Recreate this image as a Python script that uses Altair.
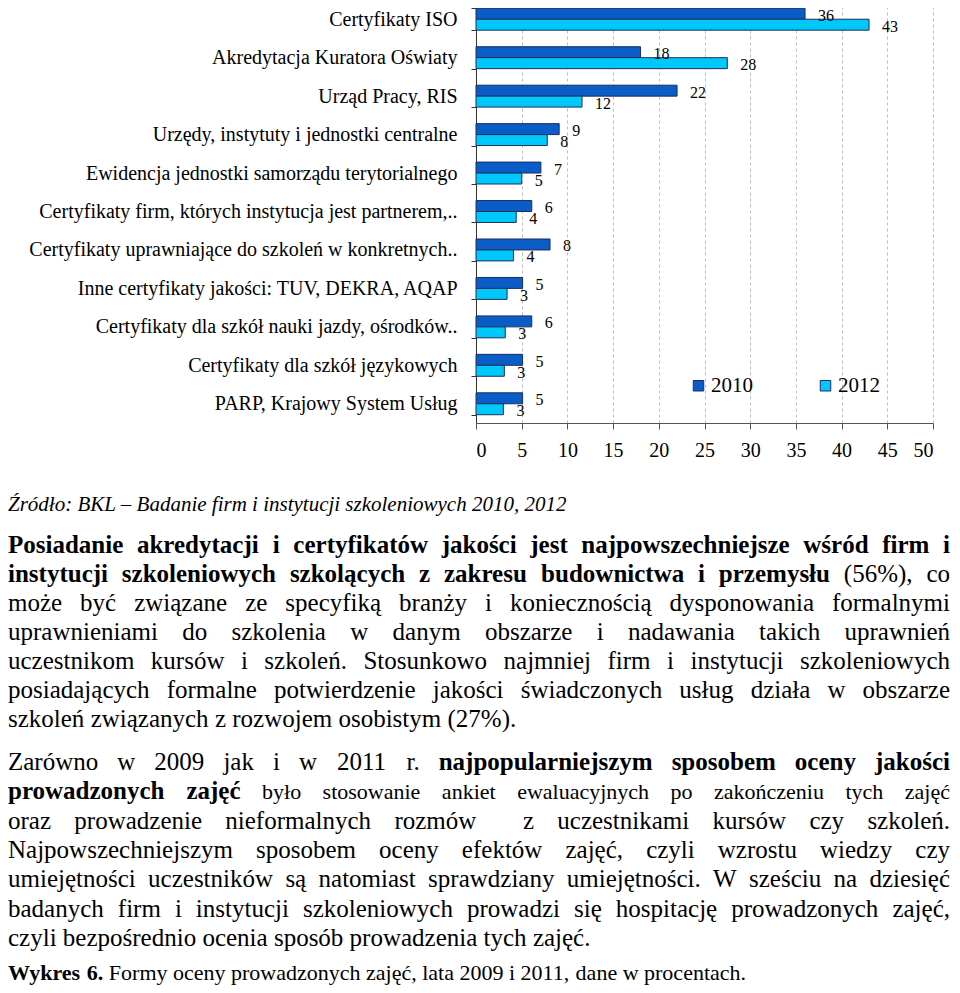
import altair as alt
import pandas as pd

# ---------------- data ----------------
categories = [
    "Certyfikaty ISO",
    "Akredytacja Kuratora Oświaty",
    "Urząd Pracy, RIS",
    "Urzędy, instytuty i jednostki centralne",
    "Ewidencja jednostki samorządu terytorialnego",
    "Certyfikaty firm, których instytucja jest partnerem,..",
    "Certyfikaty uprawniające do szkoleń w konkretnych..",
    "Inne certyfikaty jakości:  TUV, DEKRA, AQAP",
    "Certyfikaty dla szkół nauki jazdy, ośrodków..",
    "Certyfikaty dla szkół językowych",
    "PARP, Krajowy System Usług",
]
years = ["2010", "2012"]
values_2010 = [36, 18, 22, 9.1, 7.1, 6.1, 8.1, 5.1, 6.1, 5.1, 5.1]
values_2012 = [43, 27.5, 11.6, 7.8, 5.0, 4.4, 4.1, 3.4, 3.2, 3.1, 3.0]
x_ticks = [0, 5, 10, 15, 20, 25, 30, 35, 40, 45, 50]
colors = ["#0A5CC6", "#00C8FA"]

source_text = "Źródło: BKL – Badanie firm i instytucji szkoleniowych 2010, 2012"
paragraph_lines = [
    (True, [("b", "Posiadanie akredytacji i certyfikatów jakości jest najpowszechniejsze wśród firm i")]),
    (True, [("b", "instytucji szkoleniowych szkolących z zakresu budownictwa i przemysłu"), ("r", "(56%), co")]),
    (True, [("r", "może być związane ze specyfiką branży i koniecznością dysponowania formalnymi")]),
    (True, [("r", "uprawnieniami do szkolenia w danym obszarze i nadawania takich uprawnień")]),
    (True, [("r", "uczestnikom kursów i szkoleń. Stosunkowo najmniej firm i instytucji szkoleniowych")]),
    (True, [("r", "posiadających formalne potwierdzenie jakości świadczonych usług działa w obszarze")]),
    (False, [("r", "szkoleń związanych z rozwojem osobistym (27%).")]),
    (True, [("r", "Zarówno w 2009 jak i w 2011 r."), ("b", "najpopularniejszym sposobem oceny jakości")]),
    (True, [("b", "prowadzonych zajęć"), ("s", "było stosowanie ankiet ewaluacyjnych po zakończeniu tych zajęć")]),
    (True, [("r", "oraz prowadzenie nieformalnych rozmów  z uczestnikami kursów czy szkoleń.")]),
    (True, [("r", "Najpowszechniejszym sposobem oceny efektów zajęć, czyli wzrostu wiedzy czy")]),
    (True, [("r", "umiejętności uczestników są natomiast sprawdziany umiejętności. W sześciu na dziesięć")]),
    (True, [("r", "badanych firm i instytucji szkoleniowych prowadzi się hospitację prowadzonych zajęć,")]),
    (False, [("r", "czyli bezpośrednio ocenia sposób prowadzenia tych zajęć.")]),
    (False, [("wb", "Wykres 6."), ("wr", "Formy oceny prowadzonych zajęć, lata 2009 i 2011, dane w procentach.")]),
]
# page baselines (layout)
source_baseline = 511
line_baselines = [553, 582, 611, 640, 669, 698, 727, 770, 799, 829, 858, 887, 917, 946, 980]

# ---------------- layout constants ----------------
FONT = "Liberation Serif"
PAGE_MARGIN = 8
PLOT_LEFT = 476   # page x of plot origin
PLOT_TOP = 0      # page y of plot origin
TEXT_LEFT = 8
TEXT_RIGHT = 950
PLOT_W = 457
PLOT_H = 423
PAGE_RIGHT = 951
PAGE_BOTTOM = 986

STYLES = {
    "r": dict(weight="normal", style="normal", size=25),
    "b": dict(weight="bold", style="normal", size=25),
    "s": dict(weight="normal", style="normal", size=22),
    "i": dict(weight="normal", style="italic", size=21),
    "wb": dict(weight="bold", style="normal", size=22),
    "wr": dict(weight="normal", style="normal", size=22),
}

LOW = "abcdefghijklmnopqrstuvwxyz"
UP = LOW.upper()
W_REG = dict(zip(LOW, [444,500,444,500,444,333,500,500,278,278,500,278,778,500,500,500,500,333,389,278,500,500,722,500,500,444]))
W_REG.update(zip(UP, [722,667,667,722,611,556,722,722,333,389,722,611,889,722,722,556,722,667,556,611,722,722,944,722,722,611]))
W_REG.update({" ": 250, ",": 250, ".": 250, ":": 278, "(": 333, ")": 333, "%": 833, "–": 500})
W_BOLD = dict(zip(LOW, [500,556,444,556,444,333,500,556,278,333,556,278,833,556,500,556,556,444,389,333,556,500,722,500,500,444]))
W_BOLD.update(zip(UP, [722,667,722,722,667,611,778,778,389,500,778,667,944,722,778,611,778,722,556,667,722,722,1000,722,722,667]))
W_BOLD.update({" ": 250, ",": 250, ".": 250, ":": 333, "(": 333, ")": 333, "%": 1000, "–": 500})
W_IT = dict(zip(LOW, [500,500,444,500,444,278,500,500,278,278,444,278,722,500,500,500,500,389,389,278,500,444,667,444,444,389]))
W_IT.update(zip(UP, [611,611,667,722,611,611,722,722,333,444,667,556,833,667,722,611,722,611,500,556,722,611,833,611,556,556]))
W_IT.update({" ": 250, ",": 250, ".": 250, ":": 333, "(": 333, ")": 333, "%": 833, "–": 500})
ACC = str.maketrans("ąćęłńóśźżĄĆĘŁŃÓŚŹŻ", "acelnoszzACELNOSZZ")


def text_width(s, key):
    st = STYLES[key]
    table = W_BOLD if st["weight"] == "bold" else (W_IT if st["style"] == "italic" else W_REG)
    return sum(table.get(ch, 500) for ch in s.translate(ACC)) * st["size"] / 1000.0


rows = []


def add(word, key, page_x, page_y, align):
    if word:
        rows.append(dict(word=word, sty=key, anchor=align,
                         px=float(page_x - PLOT_LEFT), py=float(page_y - PLOT_TOP)))


add(source_text, "i", TEXT_LEFT, source_baseline, "left")

for (justify, segs), base in zip(paragraph_lines, line_baselines):
    tokens = []
    for key, txt in segs:
        for w in txt.split(" "):
            tokens.append((w, key))
    widths = [text_width(w, k) for w, k in tokens]
    n = len(tokens)
    gap = (TEXT_RIGHT - TEXT_LEFT - sum(widths)) / (n - 1) if justify else None
    x = TEXT_LEFT
    half = n // 2
    for i, ((w, k), wd) in enumerate(zip(tokens, widths)):
        g = gap if justify else text_width(" ", k)
        if justify and i >= half:
            right = TEXT_RIGHT - sum(widths[i + 1:]) - gap * (n - 1 - i)
            add(w, k, right, base, "right")
        else:
            add(w, k, x, base, "left")
        x += wd + g

text_df = pd.DataFrame(rows)

# ---------------- chart ----------------
df = pd.DataFrame({
    "cat": categories * 2,
    "year": [years[0]] * len(categories) + [years[1]] * len(categories),
    "value": values_2010 + values_2012,
})

x_scale = alt.Scale(domain=[0, 50])
y_scale = alt.Scale(paddingInner=0.43, paddingOuter=0.215)

bars = alt.Chart(df).mark_bar(stroke="#1B2F5E", strokeWidth=1).encode(
    x=alt.X("value:Q", scale=x_scale, axis=alt.Axis(
        values=x_ticks, title=None, grid=True, gridDash=[3, 3], gridColor="#BDBDBD",
        labelFont=FONT, labelFontSize=20, labelColor="black", labelPadding=11,
        tickSize=6, tickColor="#555", domainColor="#555")),
    y=alt.Y("cat:N", sort=categories, scale=y_scale, axis=alt.Axis(
        title=None, labelFont=FONT, labelFontSize=20, labelColor="black",
        labelLimit=700, labelPadding=14, tickBand="extent", tickSize=5,
        tickColor="#333", domainColor="#333", grid=False)),
    yOffset=alt.YOffset("year:N", sort=years),
    color=alt.Color("year:N", scale=alt.Scale(domain=years, range=colors), legend=alt.Legend(
        orient="none", legendX=212, legendY=375, direction="horizontal", title=None,
        symbolType="square", symbolSize=110, symbolStrokeColor="#1B2F5E",
        symbolStrokeWidth=1, labelFont=FONT, labelFontSize=21, labelColor="black",
        columnPadding=62, labelOffset=2, padding=0)),
)

values_txt = alt.Chart(df).mark_text(
    align="left", baseline="middle", dx=13, dy=2, font=FONT, fontSize=16, color="black"
).encode(
    x=alt.X("value:Q", scale=x_scale),
    y=alt.Y("cat:N", sort=categories, scale=y_scale),
    yOffset=alt.YOffset("year:N", sort=years),
    text=alt.Text("value:Q", format=".0f"),
)

bar_layer = alt.layer(bars, values_txt)

px_scale = alt.Scale(domain=[-1000, 1000], range=[-1000, 1000], zero=False, nice=False)
py_scale = alt.Scale(domain=[-1000, 1000], range=[-1000, 1000], zero=False, nice=False)

text_layers = []
for key, st in STYLES.items():
    for align in ["left", "right"]:
        sub = text_df[(text_df["sty"] == key) & (text_df["anchor"] == align)]
        if len(sub) == 0:
            continue
        text_layers.append(
            alt.Chart(sub.reset_index(drop=True)).mark_text(
                align=align, baseline="alphabetic", font=FONT, fontSize=st["size"],
                fontWeight=st["weight"], fontStyle=st["style"], color="black"
            ).encode(
                x=alt.X("px:Q", scale=px_scale, axis=None),
                y=alt.Y("py:Q", scale=py_scale, axis=None),
                text=alt.Text("word:N"),
            )
        )

text_layer = alt.layer(*text_layers)

pad_left = PLOT_LEFT - PAGE_MARGIN
pad_top = PLOT_TOP - PAGE_MARGIN
pad_right = PAGE_RIGHT - PAGE_MARGIN - pad_left - PLOT_W
pad_bottom = PAGE_BOTTOM - PAGE_MARGIN - pad_top - PLOT_H

chart = alt.layer(bar_layer, text_layer).resolve_scale(
    x="independent", y="independent"
).properties(
    width=PLOT_W, height=PLOT_H,
    autosize=alt.AutoSizeParams(type="none"),
    padding={"left": pad_left, "top": pad_top, "right": pad_right, "bottom": pad_bottom},
    background="white",
).configure_view(stroke=None)

chart.save("out.html", embed_options={"renderer": "svg", "actions": False})
